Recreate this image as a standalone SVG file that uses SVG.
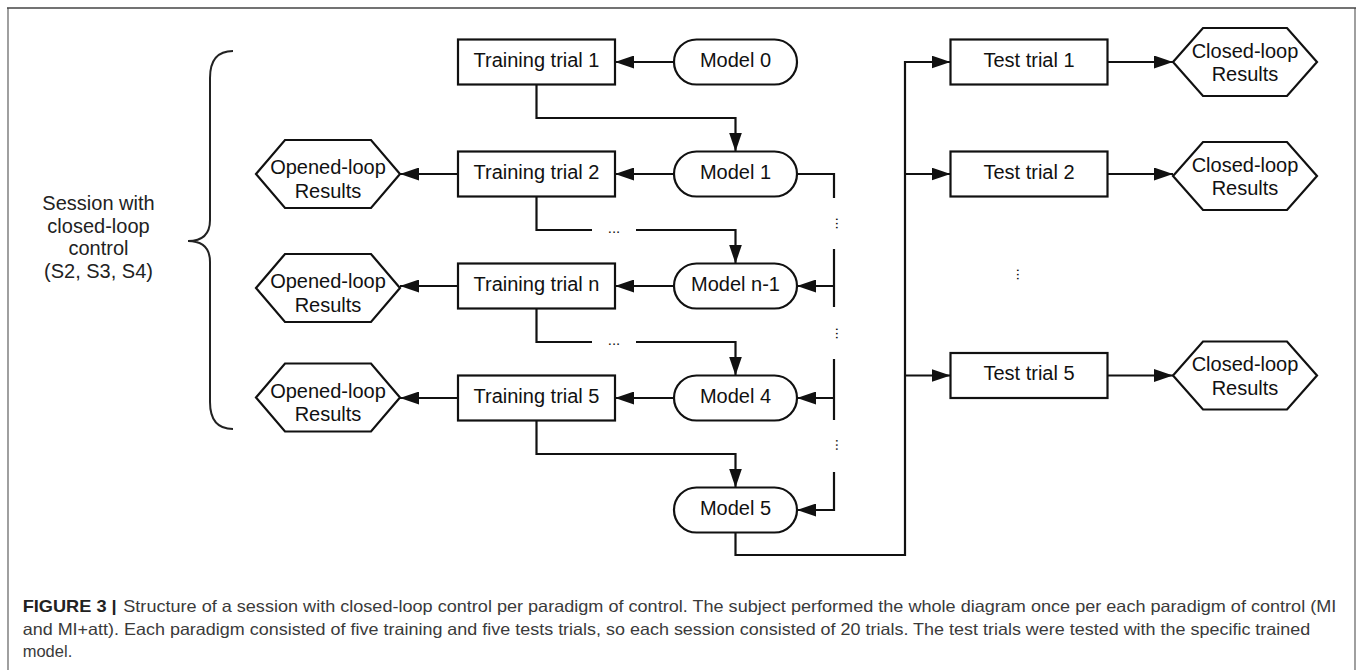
<svg xmlns="http://www.w3.org/2000/svg" width="1357" height="670" viewBox="0 0 1357 670">
<style>
.box{fill:#fff;stroke:#111;stroke-width:2.2}
.lbl{font-family:"Liberation Sans",Arial,sans-serif;font-size:20px;fill:#111;text-anchor:middle}
.side{font-family:"Liberation Sans",Arial,sans-serif;font-size:20px;fill:#222;text-anchor:middle}
.con{fill:none;stroke:#111;stroke-width:2.2}
.arr{marker-end:url(#ah)}
.dots{font-family:"Liberation Sans",Arial,sans-serif;font-size:15px;fill:#111;text-anchor:middle}
.cap{font-family:"Liberation Sans",Arial,sans-serif;font-size:16.5px;fill:#3a3a3a}
.capb{font-family:"Liberation Sans",Arial,sans-serif;font-size:16.5px;font-weight:bold;fill:#222}
</style>
<defs>
<marker id="ah" viewBox="0 0 19 13" refX="19" refY="6.5" markerWidth="19" markerHeight="13" markerUnits="userSpaceOnUse" orient="auto">
<path d="M0,0 L19,6.5 L0,13 z" fill="#111"/>
</marker>
</defs>
<rect x="0" y="0" width="1357" height="670" fill="#fff"/>
<g id="frame">
<line x1="8" y1="8" x2="8" y2="670" stroke="#888" stroke-width="1.6"/>
<line x1="1355" y1="8" x2="1355" y2="670" stroke="#888" stroke-width="1.6"/>
<line x1="7" y1="8" x2="1356" y2="8" stroke="#444" stroke-width="1.6"/>
</g>
<g id="session-label">
<text class="side" x="98.5" y="210">Session with</text>
<text class="side" x="98.5" y="232.5">closed-loop</text>
<text class="side" x="98.5" y="255">control</text>
<text class="side" x="98.5" y="277.5">(S2, S3, S4)</text>
<path d="M233,51 Q210,51 210,78 L210,220 Q210,241 188,241 Q210,241 210,262 L210,402 Q210,429 233,429" fill="none" stroke="#222" stroke-width="2"/>
</g>
<g id="connectors">
<path class="con arr" d="M674,62 H615"/>
<path class="con arr" d="M536.5,84.5 V118 H735.5 V151.5"/>
<path class="con arr" d="M674,174 H615"/>
<path class="con arr" d="M458,174 H400"/>
<path class="con" d="M536.5,196.5 V230 H592"/>
<path class="con arr" d="M636,230 H735.5 V263.5"/>
<path class="con arr" d="M674,286 H615"/>
<path class="con arr" d="M458,286 H400"/>
<path class="con" d="M536.5,308.5 V342 H592"/>
<path class="con arr" d="M636,342 H735.5 V375.5"/>
<path class="con arr" d="M674,398 H615"/>
<path class="con arr" d="M458,398 H400"/>
<path class="con arr" d="M536.5,420.5 V454 H735.5 V487.5"/>
<path class="con" d="M797,174 H834 V198"/>
<path class="con" d="M834,249 V307"/>
<path class="con arr" d="M834,286 H797"/>
<path class="con" d="M834,359 V420"/>
<path class="con arr" d="M834,398 H797"/>
<path class="con arr" d="M834,472 V510 H797"/>
<path class="con arr" d="M735.5,532.5 V555 H905 V62 H950.5"/>
<path class="con arr" d="M905,174 H950.5"/>
<path class="con arr" d="M905,375.5 H950.5"/>
<path class="con arr" d="M1107.5,62 H1173"/>
<path class="con arr" d="M1107.5,174 H1173"/>
<path class="con arr" d="M1107.5,375.5 H1173"/>
<text class="dots" x="614" y="233">...</text>
<text class="dots" x="614" y="345">...</text>
<text class="dots" transform="translate(837,223.5) rotate(90)" x="0" y="1.5">...</text>
<text class="dots" transform="translate(837,333.5) rotate(90)" x="0" y="1.5">...</text>
<text class="dots" transform="translate(837,445) rotate(90)" x="0" y="1.5">...</text>
<text class="dots" transform="translate(1018,274.5) rotate(90)" x="0" y="1.5">...</text>
</g>
<g id="training-trial-1"><rect class="box" x="458" y="39.5" width="157" height="45"/><text class="lbl" x="536.5" y="66.5">Training trial 1</text></g>
<g id="model-0"><rect class="box" x="674" y="39.5" width="123" height="45" rx="22.5"/><text class="lbl" x="735.5" y="66.5">Model 0</text></g>
<g id="training-trial-2"><rect class="box" x="458" y="151.5" width="157" height="45"/><text class="lbl" x="536.5" y="178.5">Training trial 2</text></g>
<g id="model-1"><rect class="box" x="674" y="151.5" width="123" height="45" rx="22.5"/><text class="lbl" x="735.5" y="178.5">Model 1</text></g>
<g id="training-trial-n"><rect class="box" x="458" y="263.5" width="157" height="45"/><text class="lbl" x="536.5" y="290.5">Training trial n</text></g>
<g id="model-n-1"><rect class="box" x="674" y="263.5" width="123" height="45" rx="22.5"/><text class="lbl" x="735.5" y="290.5">Model n-1</text></g>
<g id="training-trial-5"><rect class="box" x="458" y="375.5" width="157" height="45"/><text class="lbl" x="536.5" y="402.5">Training trial 5</text></g>
<g id="model-4"><rect class="box" x="674" y="375.5" width="123" height="45" rx="22.5"/><text class="lbl" x="735.5" y="402.5">Model 4</text></g>
<g id="model-5"><rect class="box" x="674" y="487.5" width="123" height="45" rx="22.5"/><text class="lbl" x="735.5" y="514.5">Model 5</text></g>
<g id="opened-results-1"><polygon class="box" points="256,174 285,140 371,140 400,174 371,208 285,208"/><text class="lbl" x="328" y="174">Opened-loop</text><text class="lbl" x="328" y="197.5">Results</text></g>
<g id="opened-results-2"><polygon class="box" points="256,288 285,254 371,254 400,288 371,322 285,322"/><text class="lbl" x="328" y="288">Opened-loop</text><text class="lbl" x="328" y="311.5">Results</text></g>
<g id="opened-results-3"><polygon class="box" points="256,397.5 285,363.5 371,363.5 400,397.5 371,431.5 285,431.5"/><text class="lbl" x="328" y="397.5">Opened-loop</text><text class="lbl" x="328" y="421">Results</text></g>
<g id="test-trial-1"><rect class="box" x="950.5" y="39.5" width="157" height="45"/><text class="lbl" x="1029" y="66.5">Test trial 1</text></g>
<g id="test-trial-2"><rect class="box" x="950.5" y="151.5" width="157" height="45"/><text class="lbl" x="1029" y="178.5">Test trial 2</text></g>
<g id="test-trial-5"><rect class="box" x="950.5" y="353" width="157" height="45"/><text class="lbl" x="1029" y="380">Test trial 5</text></g>
<g id="closed-results-1"><polygon class="box" points="1173,62 1203,28 1287,28 1317,62 1287,96 1203,96"/><text class="lbl" x="1245" y="57.5">Closed-loop</text><text class="lbl" x="1245" y="81">Results</text></g>
<g id="closed-results-2"><polygon class="box" points="1173,176 1203,142 1287,142 1317,176 1287,210 1203,210"/><text class="lbl" x="1245" y="171.5">Closed-loop</text><text class="lbl" x="1245" y="195">Results</text></g>
<g id="closed-results-5"><polygon class="box" points="1173,375.5 1203,341.5 1287,341.5 1317,375.5 1287,409.5 1203,409.5"/><text class="lbl" x="1245" y="371">Closed-loop</text><text class="lbl" x="1245" y="394.5">Results</text></g>
<g id="caption">
<text class="capb" x="22.7" y="612" textLength="94" lengthAdjust="spacingAndGlyphs">FIGURE 3 |</text>
<text class="cap" x="123.3" y="612" textLength="1213" lengthAdjust="spacingAndGlyphs">Structure of a session with closed-loop control per paradigm of control. The subject performed the whole diagram once per each paradigm of control (MI</text>
<text class="cap" x="22.7" y="634.5" textLength="1287.6" lengthAdjust="spacingAndGlyphs">and MI+att). Each paradigm consisted of five training and five tests trials, so each session consisted of 20 trials. The test trials were tested with the specific trained</text>
<text class="cap" x="22.7" y="657">model.</text>
</g>
</svg>
